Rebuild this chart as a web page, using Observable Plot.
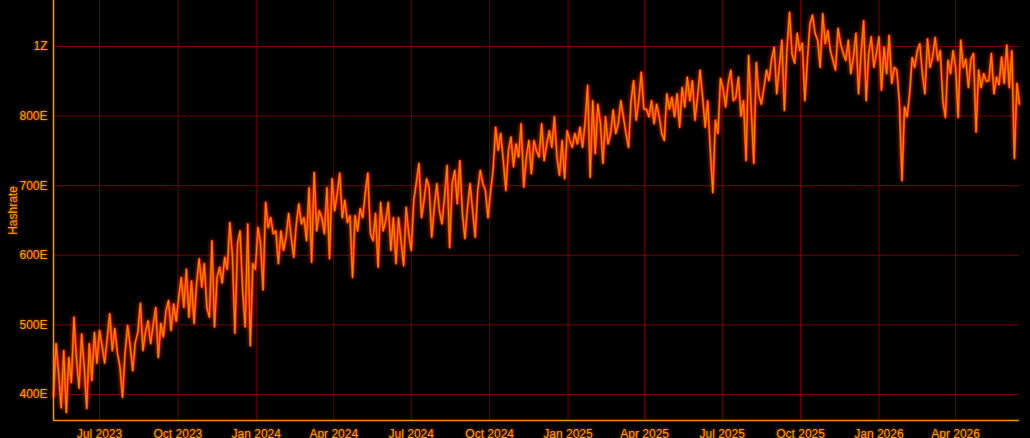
<!DOCTYPE html>
<html>
<head>
<meta charset="utf-8">
<script src="https://cdn.jsdelivr.net/npm/d3@7"></script>
<script src="https://cdn.jsdelivr.net/npm/@observablehq/plot@0.6"></script>
<style>
  html, body { margin: 0; padding: 0; background: #000; overflow: hidden; }
  #chart svg text { text-shadow: 0 0 3px rgba(255, 110, 0, 0.85); }
</style>
</head>
<body>
<div id="chart"></div>
<script>
// ---- data ----
const startDate = "2023-05-08";
const stepDays = 3;
// Hashrate in E (exa) units, one reading every 3 days
const hashrateE = [
  // May 8 – Jul 1 2023
  396, 473, 430, 381, 463, 374, 453, 417, 511, 450, 409, 487, 440, 380, 473, 420, 489, 445,
  // Jul – Oct 2023
  492, 470, 445, 480, 516, 463, 495, 460, 439, 396, 460, 499, 470, 434, 475, 489, 531, 463, 490, 506, 473, 500, 525, 453, 502, 483, 520, 535, 492, 530, 505,
  // Oct 2023 – Jan 2024
  540, 568, 525, 580, 511, 563, 502, 560, 595, 554, 588, 525, 511, 621, 497, 568, 583, 560, 597, 580, 647, 600, 488, 617, 635, 550, 497, 645, 470, 588, 580,
  // Jan – Apr 2024
  640, 617, 550, 676, 640, 654, 631, 635, 588, 635, 607, 626, 660, 626, 597, 645, 674, 645, 654, 621, 697, 590, 719, 635, 664, 654, 631, 697, 595, 710,
  // Apr – Jul 2024
  664, 688, 718, 654, 679, 647, 657, 568, 657, 635, 667, 654, 690, 718, 631, 621, 660, 583, 676, 635, 650, 676, 607, 654, 588, 654, 620, 585, 669, 631,
  // Jul – Oct 2024
  607, 680, 705, 732, 654, 679, 710, 697, 626, 669, 703, 664, 645, 683, 729, 611, 703, 722, 674, 736, 660, 624, 669, 703, 664, 626, 693, 722, 703, 693, 654,
  // Oct 2024 – Jan 2025
  690, 722, 784, 751, 775, 736, 693, 750, 770, 727, 760, 741, 789, 698, 740, 765, 717, 765, 750, 741, 789, 736, 760, 779, 755, 799, 740, 715, 765, 710, 779,
  // Jan – Apr 2025
  765, 755, 775, 760, 784, 755, 790, 844, 712, 822, 746, 817, 790, 732, 799, 760, 775, 809, 775, 789, 822, 799, 775, 755, 822, 851, 794, 822, 863, 810,
  // Apr – Jul 2025
  810, 799, 822, 789, 817, 800, 775, 765, 832, 810, 827, 799, 832, 784, 841, 813, 856, 822, 851, 794, 827, 866, 827, 784, 822, 751, 690, 794, 775, 854,
  // Jul – Oct 2025
  840, 813, 847, 866, 822, 827, 856, 800, 822, 736, 887, 813, 732, 877, 830, 817, 841, 866, 851, 882, 899, 832, 870, 909, 808, 896, 949, 889, 876, 919, 894,
  // Oct 2025 – Jan 2026
  905, 822, 880, 933, 945, 919, 909, 870, 947, 904, 923, 894, 880, 866, 926, 904, 890, 880, 909, 861, 884, 919, 832, 889, 937, 822, 889, 914, 870, 890, 914,
  // Jan – Apr 2026
  837, 899, 861, 916, 847, 870, 866, 820, 707, 813, 799, 832, 884, 870, 894, 904, 860, 832, 911, 870, 885, 913, 880, 894, 822, 798, 880, 861, 894, 870,
  // Apr – Jun 2026
  798, 909, 870, 882, 841, 882, 890, 777, 866, 841, 861, 850, 851, 890, 832, 856, 845, 885, 847, 902, 841, 894, 739, 847, 817
];
const xTickDates = ["2023-07-01", "2023-10-01", "2024-01-01", "2024-04-01", "2024-07-01", "2024-10-01",
                    "2025-01-01", "2025-04-01", "2025-07-01", "2025-10-01", "2026-01-01", "2026-04-01"];
const yTickValues = [400, 500, 600, 700, 800, 900];
const yTickLabels = ["400E", "500E", "600E", "700E", "800E", "1Z"];
const xDomain = ["2023-05-08", "2026-06-15"];
const yDomain = [362.6, 966.1];

// ---- build ----
const start = new Date(startDate);
const data = hashrateE.map((v, i) => ({ date: d3.utcDay.offset(start, i * stepDays), value: v }));
const xTicks = xTickDates.map(d => new Date(d));
const xDom = xDomain.map(d => new Date(d));

const gridColor = "#700000";
const axisColor = "#ff8c00";

const chart = Plot.plot({
  width: 1030,
  height: 452,
  marginLeft: 53,
  marginRight: 11,
  marginTop: 0,
  marginBottom: 32,
  style: {
    background: "#000",
    color: "#ff9a00",
    fontFamily: "'Liberation Sans', Arial, Helvetica, sans-serif",
    fontSize: "12px"
  },
  x: { type: "utc", domain: xDom },
  y: { domain: yDomain },
  marks: [
    Plot.gridX(xTicks, { stroke: gridColor, strokeOpacity: 1 }),
    Plot.gridY(yTickValues, { stroke: gridColor, strokeOpacity: 1 }),
    Plot.line(data, { x: "date", y: "value", stroke: "#ff3300", strokeWidth: 2.4, strokeOpacity: 0.75 }),
    Plot.line(data, { x: "date", y: "value", stroke: "#ff6a00", strokeWidth: 1.1 }),
    Plot.line(data, { x: "date", y: "value", stroke: "#ffaa00", strokeWidth: 0.5, strokeOpacity: 0.8 }),
    Plot.ruleY([yDomain[0]], { stroke: axisColor, strokeWidth: 1.6 }),
    Plot.ruleX([xDom[0]], { stroke: axisColor, strokeWidth: 1.6 }),
    Plot.axisX(xTicks, {
      tickFormat: d3.utcFormat("%b %Y"),
      tickSize: 0,
      tickPadding: 9,
      label: null
    }),
    Plot.axisY(yTickValues, {
      tickFormat: d => yTickLabels[yTickValues.indexOf(d)],
      tickSize: 0,
      tickPadding: 6,
      label: "Hashrate",
      labelAnchor: "center",
      labelArrow: "none",
      labelOffset: 45
    })
  ]
});

document.getElementById("chart").appendChild(chart);

// glow filter for the line
const svg = d3.select(chart);
const defs = svg.insert("defs", ":first-child");
const f = defs.append("filter").attr("id", "glow")
  .attr("x", "-10%").attr("y", "-10%").attr("width", "120%").attr("height", "120%");
f.append("feGaussianBlur").attr("in", "SourceGraphic").attr("stdDeviation", 2.2).attr("result", "b");
const m = f.append("feMerge");
m.append("feMergeNode").attr("in", "b");
m.append("feMergeNode").attr("in", "SourceGraphic");
const lines = svg.selectAll('g[aria-label="line"]').nodes();
if (lines[0]) lines[0].setAttribute("filter", "url(#glow)");
</script>
</body>
</html>
